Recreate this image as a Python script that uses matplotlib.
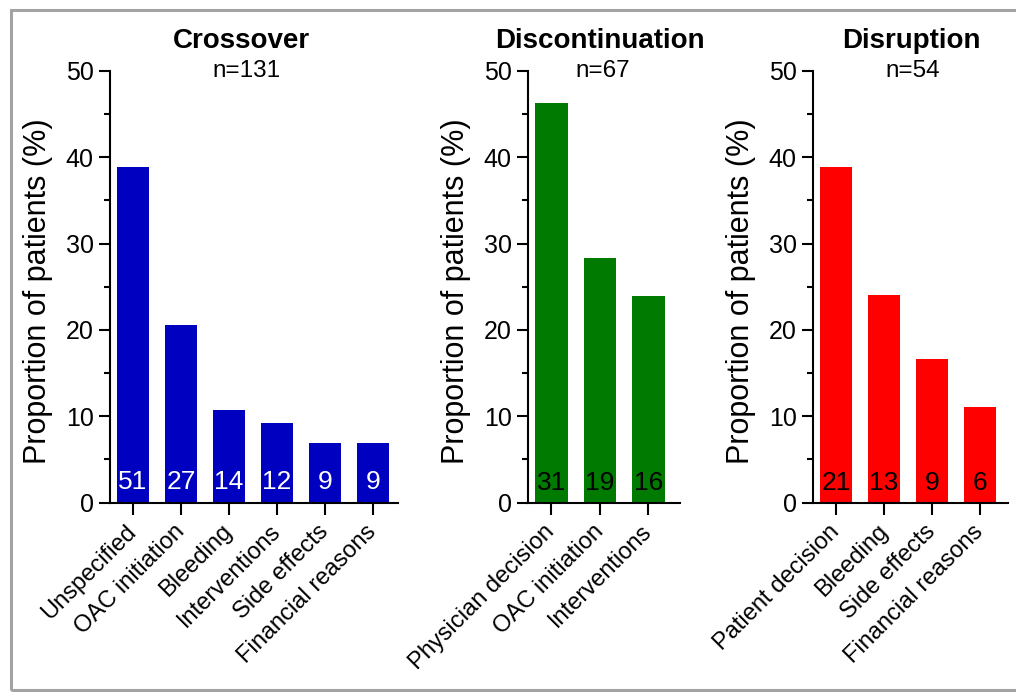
import matplotlib
matplotlib.use("Agg")
import matplotlib.pyplot as plt
from matplotlib.patches import Rectangle
from matplotlib.ticker import MultipleLocator

plt.rcParams['font.family'] = ['Liberation Sans', 'DejaVu Sans']

# Reasons and patient counts for each group
crossover_reasons = ["Unspecified", "OAC initiation", "Bleeding", "Interventions",
                     "Side effects", "Financial reasons"]
crossover_counts = [51, 27, 14, 12, 9, 9]
crossover_n = 131

discontinuation_reasons = ["Physician decision", "OAC initiation", "Interventions"]
discontinuation_counts = [31, 19, 16]
discontinuation_n = 67

disruption_reasons = ["Patient decision", "Bleeding", "Side effects", "Financial reasons"]
disruption_counts = [21, 13, 9, 6]
disruption_n = 54

y_ticks = [0, 10, 20, 30, 40, 50]
y_label = "Proportion of patients (%)"

W, H = 1016, 692
fig = plt.figure(figsize=(W / 100, H / 100), dpi=100)

# Outer frame (open on the right side)
fig.add_artist(Rectangle((10.5 / W, 1 - 689.5 / H), 1.2, (689.5 - 9.5) / H,
                         transform=fig.transFigure, fill=False,
                         edgecolor="#a3a3a3", linewidth=2.2, clip_on=False))

bottom_px, top_px = 502.5, 71
panels = [
    dict(title="Crossover", reasons=crossover_reasons, counts=crossover_counts,
         n=crossover_n, color="#0000C0", text_color="white",
         left=110, right=398, xmax_pad=0.52, title_x=241, n_x=246, lab_off=10),
    dict(title="Discontinuation", reasons=discontinuation_reasons,
         counts=discontinuation_counts, n=discontinuation_n, color="#007A00",
         text_color="black", left=528, right=680, xmax_pad=0.65,
         title_x=600, n_x=603, lab_off=8.7),
    dict(title="Disruption", reasons=disruption_reasons, counts=disruption_counts,
         n=disruption_n, color="#FF0000", text_color="black",
         left=813, right=1008, xmax_pad=0.58, title_x=911, n_x=913, lab_off=8.7),
]

for p in panels:
    w_px = p["right"] - p["left"]
    ax = fig.add_axes([p["left"] / W, 1 - bottom_px / H, w_px / W,
                       (bottom_px - top_px) / H])
    pct = [c / p["n"] * 100 for c in p["counts"]]
    x = list(range(len(pct)))
    ax.bar(x, pct, width=0.667, color=p["color"], edgecolor="none", zorder=2)

    for xi, c in zip(x, p["counts"]):
        ax.annotate(str(c), (xi, 0), xytext=(0, p["lab_off"]),
                    textcoords="offset points", ha="center", va="baseline",
                    color=p["text_color"], fontsize=19, zorder=3)

    ax.set_xlim(-0.48, len(pct) - 1 + p["xmax_pad"])
    ax.set_ylim(0, 50)
    ax.set_yticks(y_ticks)
    ax.yaxis.set_minor_locator(MultipleLocator(5))
    ax.set_xticks(x)
    ax.set_xticklabels(p["reasons"], rotation=45, ha="right", va="center",
                       rotation_mode="anchor", fontsize=17)
    ax.tick_params(axis="y", which="major", length=7.7, width=1.5,
                   labelsize=18, pad=4)
    ax.tick_params(axis="y", which="minor", length=4.3, width=1.5)
    ax.tick_params(axis="x", which="major", length=8.6, width=1.5, pad=10)
    for s in ("top", "right"):
        ax.spines[s].set_visible(False)
    for s in ("left", "bottom"):
        ax.spines[s].set_linewidth(1.5)
    ax.set_ylabel(y_label, fontsize=22)
    ax.yaxis.set_label_coords(-57 / w_px, 0.49)

    fig.text(p["title_x"] / W, 1 - 48 / H, p["title"], ha="center",
             va="baseline", fontsize=20, fontweight="bold")
    fig.text(p["n_x"] / W, 1 - 77 / H, f"n={p['n']}", ha="center",
             va="baseline", fontsize=17.5)

fig.savefig("out.png", dpi=100)
